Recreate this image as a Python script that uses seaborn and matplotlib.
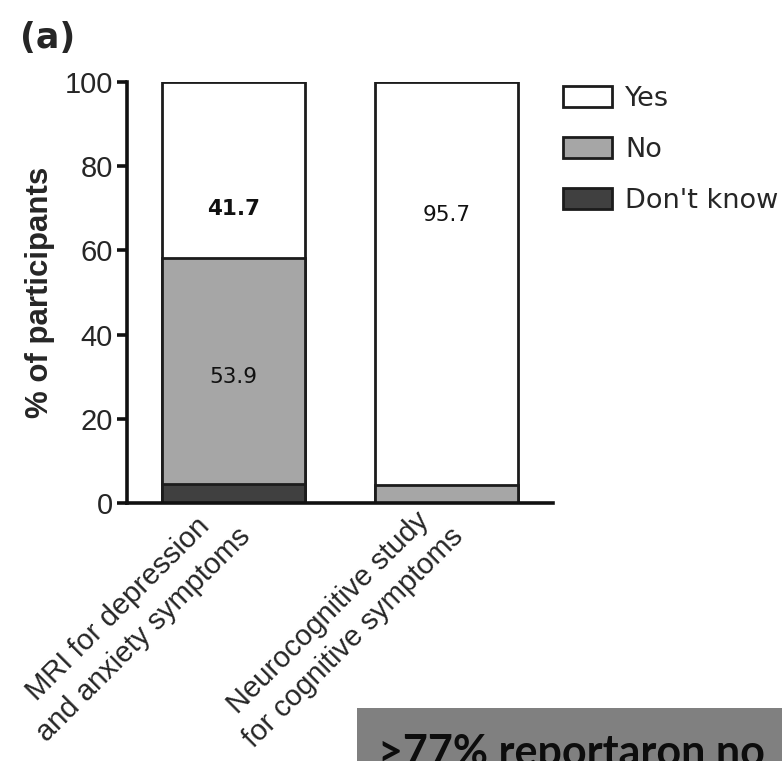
import matplotlib
matplotlib.use("Agg")
import matplotlib.pyplot as plt
import seaborn as sns
import pandas as pd
from matplotlib.patches import Patch, Rectangle

# Survey responses per imaging / testing option (% of participants)
categories = ["MRI for depression\nand anxiety symptoms",
              "Neurocognitive study\nfor cognitive symptoms"]
yes = [41.7, 95.7]
no = [53.9, 4.3]
dont_know = [4.4, 0.0]
responses = ["Yes", "No", "Don't know"]
yticks = [0, 20, 40, 60, 80, 100]
callout = ">77% reportaron no"

colors = {"Yes": "#ffffff", "No": "#a6a6a6", "Don't know": "#404040"}
edge = "#1c1c1c"

sns.set_style("ticks")
plt.rcParams["font.family"] = ["Liberation Sans", "DejaVu Sans"]

df = pd.DataFrame({"category": categories, "Yes": yes, "No": no, "Don't know": dont_know})
# cumulative tops for stacking: Don't know at the bottom, then No, then Yes
df["top_Yes"] = df["Don't know"] + df["No"] + df["Yes"]
df["top_No"] = df["Don't know"] + df["No"]
df["top_Don't know"] = df["Don't know"]

fig = plt.figure(figsize=(7.82, 7.61), dpi=100)
ax = fig.add_axes([127 / 782, 1 - 503 / 761, 426 / 782, 421 / 761])

for resp in responses:
    sns.barplot(data=df, x="category", y=f"top_{resp}", color=colors[resp],
                saturation=1, edgecolor=edge, linewidth=2, width=0.667,
                errorbar=None, ax=ax)

# value labels inside the segments
lab_kw = dict(ha="center", va="center", fontsize=15.5, color="#111111",
              family=["DejaVu Sans"])
ax.text(0, 69.8, f"{yes[0]}", fontweight="bold", **lab_kw)
ax.text(0, 30.0, f"{no[0]}", **lab_kw)
ax.text(1, 68.4, f"{yes[1]}", **lab_kw)

ax.set_xlim(-0.5, 1.5)
ax.set_ylim(0, 100)
ax.set_yticks(yticks)
ax.set_yticklabels([str(t) for t in yticks])
sns.despine(ax=ax)
for side in ("left", "bottom"):
    ax.spines[side].set_linewidth(2.6)
    ax.spines[side].set_color("#111111")
ax.tick_params(axis="y", length=7, width=2.6, labelsize=21, pad=3, color="#111111")
ax.tick_params(axis="x", length=0, labelsize=21, pad=12)
ax.set_xticks([0, 1])
ax.set_xticklabels(categories, rotation=45, ha="right", va="center",
                   rotation_mode="anchor", multialignment="center",
                   linespacing=1.35)
ax.set_xlabel("")
ax.set_ylabel("% of participants", fontsize=22.5, fontweight="bold", labelpad=7)

fig.text(20 / 782, 1 - 48 / 761, "(a)", fontsize=25, fontweight="bold",
         family=["DejaVu Sans"], va="baseline")

handles = [Patch(facecolor=colors[r], edgecolor=edge, linewidth=2, label=r) for r in responses]
fig.legend(handles=handles, loc="upper left", bbox_to_anchor=(563 / 782, 1 - 86 / 761),
           frameon=False, prop={"family": "DejaVu Sans", "size": 19.5},
           handlelength=1.8, handleheight=0.8,
           handletextpad=0.5, labelspacing=0.92, borderpad=0, borderaxespad=0)

# grey call-out banner along the bottom edge
fig.add_artist(Rectangle((357 / 782, -0.05), 0.6, 0.05 + 1 - 708 / 761,
                         transform=fig.transFigure, facecolor="#808080",
                         edgecolor="none"))
fig.text(378 / 782, 1 - 766 / 761, callout, fontsize=31, fontweight="bold",
         family=["Lato", "DejaVu Sans"], va="baseline", color="#0d0d0d")

fig.savefig("out.png", dpi=100)
